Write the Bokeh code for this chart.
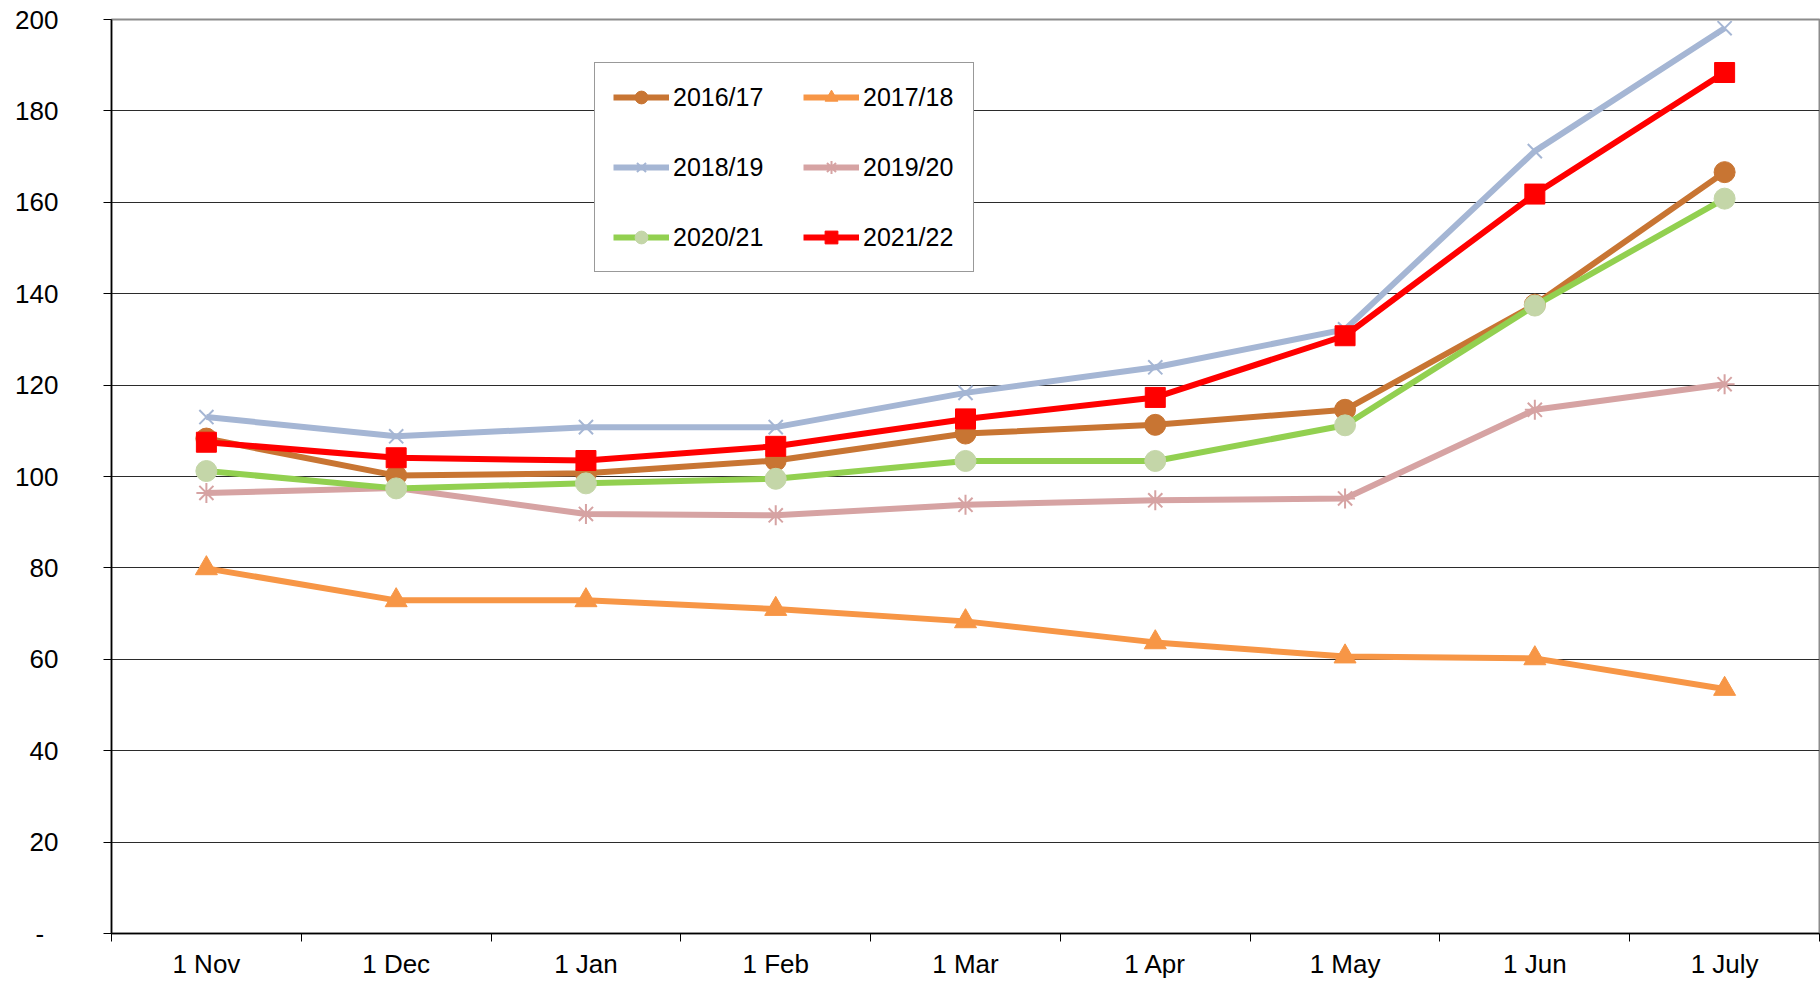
from bokeh.plotting import figure
from bokeh.models import FixedTicker, Legend, LegendItem, Range1d
from bokeh.embed import file_html
from bokeh.resources import INLINE

months = ["1 Nov", "1 Dec", "1 Jan", "1 Feb", "1 Mar", "1 Apr", "1 May", "1 Jun", "1 July"]

s2016_17 = [108.3, 100.2, 100.7, 103.5, 109.4, 111.3, 114.6, 137.6, 166.6]
s2017_18 = [79.9, 72.9, 72.9, 71.0, 68.3, 63.7, 60.6, 60.2, 53.5]
s2018_19 = [113.0, 108.8, 110.8, 110.8, 118.3, 123.9, 132.2, 171.2, 198.1]
s2019_20 = [96.4, 97.5, 91.8, 91.5, 93.8, 94.8, 95.2, 114.6, 120.2]
s2020_21 = [101.2, 97.4, 98.5, 99.5, 103.4, 103.4, 111.2, 137.4, 160.8]
s2021_22 = [107.5, 104.1, 103.5, 106.6, 112.6, 117.3, 130.8, 161.8, 188.4]

series_names = ["2016/17", "2017/18", "2018/19", "2019/20", "2020/21", "2021/22"]
series_values = [s2016_17, s2017_18, s2018_19, s2019_20, s2020_21, s2021_22]

y_ticks = [0, 20, 40, 60, 80, 100, 120, 140, 160, 180, 200]

styles = [
    dict(color="#C87533", marker="circle", fill="#C87533", size=21, lw=0),
    dict(color="#F79646", marker="triangle", fill="#F79646", size=22, lw=0),
    dict(color="#A5B6D4", marker="x", fill=None, size=20, lw=2),
    dict(color="#D6A3A3", marker="asterisk", fill=None, size=20, lw=2),
    dict(color="#92D050", marker="circle", fill="#C4D6A8", size=21, lw=0),
    dict(color="#FF0000", marker="square", fill="#FF0000", size=20, lw=0),
]

x = [i + 0.5 for i in range(len(months))]

p = figure(width=1820, height=984, output_backend="svg", toolbar_location=None,
           x_range=Range1d(0, len(months)), y_range=Range1d(0, 200),
           min_border_left=111, min_border_right=1, min_border_top=19, min_border_bottom=51)

p.background_fill_color = "white"
p.border_fill_color = "white"
p.outline_line_color = "#8C8C8C"
p.outline_line_width = 2

FONT = "Liberation Sans"

# y axis
p.yaxis.ticker = FixedTicker(ticks=y_ticks)
p.yaxis.major_label_overrides = {0: "-\u00a0\u00a0"}
p.yaxis.major_label_text_font = FONT
p.yaxis.major_label_text_font_size = "26px"
p.yaxis.major_label_text_color = "black"
p.yaxis.major_tick_out = 8
p.yaxis.major_tick_in = 0
p.yaxis.minor_tick_line_color = None
p.yaxis.major_tick_line_color = "black"
p.yaxis.axis_line_color = "black"
p.yaxis.axis_line_width = 1.5
p.yaxis.major_label_standoff = 45

# x axis: labels at centres, ticks at boundaries
p.xaxis.ticker = FixedTicker(ticks=x, minor_ticks=list(range(len(months) + 1)))
p.xaxis.major_label_overrides = {xx: m for xx, m in zip(x, months)}
p.xaxis.major_label_text_font = FONT
p.xaxis.major_label_text_font_size = "26px"
p.xaxis.major_label_text_color = "black"
p.xaxis.major_tick_line_color = None
p.xaxis.major_tick_out = 8
p.xaxis.minor_tick_out = 8
p.xaxis.minor_tick_in = 0
p.xaxis.minor_tick_line_color = "black"
p.xaxis.axis_line_color = "black"
p.xaxis.axis_line_width = 1.5
p.xaxis.major_label_standoff = 7

p.xgrid.grid_line_color = None
p.ygrid.grid_line_color = "#2B2B2B"
p.ygrid.grid_line_width = 1

items = []
for name, vals, st in zip(series_names, series_values, styles):
    ln = p.line(x, vals, line_color=st["color"], line_width=6)
    if st["fill"] is None:
        sc = p.scatter(x, vals, marker=st["marker"], size=st["size"],
                       line_color=st["color"], line_width=st["lw"], fill_color=None)
    else:
        sc = p.scatter(x, vals, marker=st["marker"], size=st["size"],
                       line_color=st["fill"], line_width=1, fill_color=st["fill"])
    items.append(LegendItem(label=name, renderers=[ln, sc]))

legend = Legend(items=items, orientation="horizontal", ncols=2,
                location=(483, 661), margin=0, padding=18,
                glyph_width=56, glyph_height=32, label_height=25, label_width=92,
                label_standoff=4, spacing=38,
                label_text_font=FONT, label_text_font_size="25px", label_text_color="black",
                border_line_color="#333333", border_line_width=1,
                background_fill_color="white", background_fill_alpha=1)
p.add_layout(legend, "center")

open("out.html", "w").write(file_html(p, INLINE))
